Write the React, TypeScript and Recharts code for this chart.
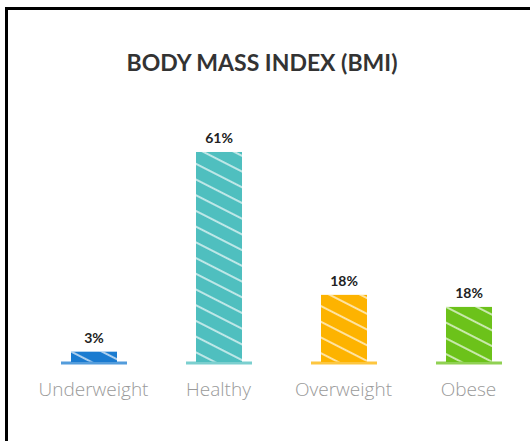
import { BarChart, Bar, XAxis, YAxis, LabelList } from 'recharts';

const categories = ['Underweight', 'Healthy', 'Overweight', 'Obese'];
const values = [3, 61, 19.5, 16];
const valueLabels = ['3%', '61%', '18%', '18%'];
const colors = ['#1a7bd0', '#4fbfbf', '#fdb300', '#6cc21a'];

const data = categories.map((name, i) => ({ name, value: values[i], label: valueLabels[i] }));

const HatchedBar = (props: any) => {
    const { x, y, width, height, index } = props;
    const color = colors[index];
    return (
        <g>
            <rect x={x} y={y} width={width} height={height} fill={color} />
            <rect x={x} y={y} width={width} height={height} fill="url(#hatch)" />
            <line x1={x - 10} x2={x + width + 10} y1={y + height + 1} y2={y + height + 1} stroke={color} strokeWidth={3} opacity={0.75} />
        </g>
    );
};

const App = () => {
    return (
        <div style={{ position: 'absolute', left: 0, top: 0, width: 530, height: 441, overflow: 'hidden', background: '#fff' }}>
            {/* frame */}
            <div style={{ position: 'absolute', left: 5, top: 7, width: 560, height: 480, borderLeft: '3px solid #000', borderTop: '3px solid #000' }} />

            <div style={{ position: 'absolute', left: 0, top: 48, width: 524, textAlign: 'center', fontFamily: 'Lato, sans-serif', fontWeight: 700, fontSize: 23, color: '#333' }}>
                BODY MASS INDEX (BMI)
            </div>

            <div style={{ position: 'absolute', left: 0, top: 0 }}>
                <BarChart width={560} height={441} data={data} margin={{ top: 121, right: 29, left: 31, bottom: 39 }} barSize={46}>
                    <defs>
                        <pattern id="hatch" patternUnits="userSpaceOnUse" width={10} height={14} patternTransform="rotate(27)">
                            <line x1={0} y1={1} x2={10} y2={1} stroke="#fff" strokeWidth={1.8} opacity={0.7} />
                        </pattern>
                    </defs>
                    <XAxis dataKey="name" axisLine={false} tickLine={false} tickSize={0} tickMargin={21} height={40} interval={0}
                        tick={{ fill: '#9a9a9a', fontSize: 19, fontFamily: '"Open Sans", sans-serif', fontWeight: 300 }} />
                    <YAxis hide domain={[0, 70]} />
                    <Bar dataKey="value" shape={HatchedBar} isAnimationActive={false}>
                        <LabelList dataKey="label" position="top" offset={9} fill="#222" fontSize={14} fontWeight={700} fontFamily='Lato, sans-serif' />
                    </Bar>
                </BarChart>
            </div>
        </div>
    );
};

export default App;
